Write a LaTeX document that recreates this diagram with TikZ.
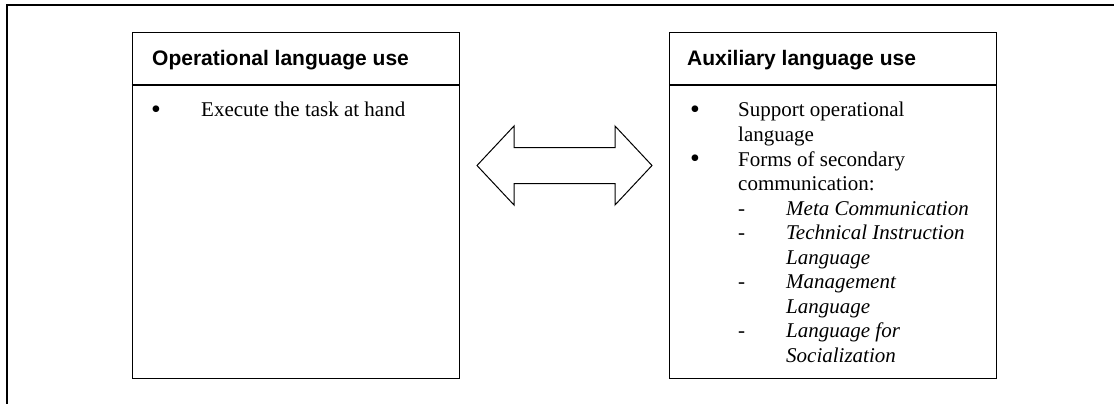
\documentclass[tikz,border=0pt]{standalone}
\usepackage{fontspec}
\setmainfont{Liberation Serif}
\newfontfamily\headfont{Liberation Sans}
\begin{document}
\begin{tikzpicture}[x=1pt,y=-1pt,
  panel/.style={draw, line width=1.4pt, inner sep=0pt, anchor=north west,
                minimum width=327pt, minimum height=345.5pt},
  rule/.style={line width=1.1pt},
  head/.style={anchor=base west, inner sep=0pt,
               font=\headfont\bfseries\fontsize{21}{24}\selectfont},
  txt/.style={anchor=base west, inner sep=0pt, font=\fontsize{21}{24.5}\selectfont},
  itxt/.style={anchor=base west, inner sep=0pt, font=\itshape\fontsize{21}{24.5}\selectfont},
  dot/.style={anchor=base west, inner sep=0pt, font=\fontsize{28}{28}\selectfont},
]
\useasboundingbox (0,0) rectangle (1114,404);

% outer frame: top and left edges only
\draw[line width=2pt] (7,404) -- (7,5) -- (1114,5);

% left panel
\node[panel] (opbox) at (131.5,32) {};
\draw[rule] (opbox.west |- 0,85) -- (opbox.east |- 0,85);
\node[head] (ophead) at (152,66) {Operational language use};
\node[dot] (opdot) at (151,118) {•};
\node[txt] (opitem) at (201,117) {Execute the task at hand};

% right panel
\node[panel] (auxbox) at (669,32) {};
\draw[rule] (auxbox.west |- 0,85) -- (auxbox.east |- 0,85);
\node[head] (auxhead) at (687,66) {Auxiliary language use};
\node[dot] (auxdotA) at (690,118) {•};
\node[txt] (auxA1) at (738,117) {Support operational};
\node[txt] (auxA2) at (738,141.5) {language};
\node[dot] (auxdotB) at (690,167) {•};
\node[txt] (auxB1) at (738,166) {Forms of secondary};
\node[txt] (auxB2) at (738,190.5) {communication:};
\node[txt] (dash1) at (738,215) {-};
\node[itxt] (sub1) at (786,215) {Meta Communication};
\node[txt] (dash2) at (738,239.5) {-};
\node[itxt] (sub2a) at (786,239.5) {Technical Instruction};
\node[itxt] (sub2b) at (786,264) {Language};
\node[txt] (dash3) at (738,288.5) {-};
\node[itxt] (sub3a) at (786,288.5) {Management};
\node[itxt] (sub3b) at (786,313) {Language};
\node[txt] (dash4) at (738,337.5) {-};
\node[itxt] (sub4a) at (786,337.5) {Language for};
\node[itxt] (sub4b) at (786,362) {Socialization};

% two-headed block arrow between the panels
\draw[line width=1pt, line join=miter]
  (477,165.5) -- (514,126) -- (514,147.5) -- (615,147.5) -- (615,126)
  -- (652,165.5) -- (615,205) -- (615,183.5) -- (514,183.5) -- (514,205) -- cycle;
\end{tikzpicture}
\end{document}
